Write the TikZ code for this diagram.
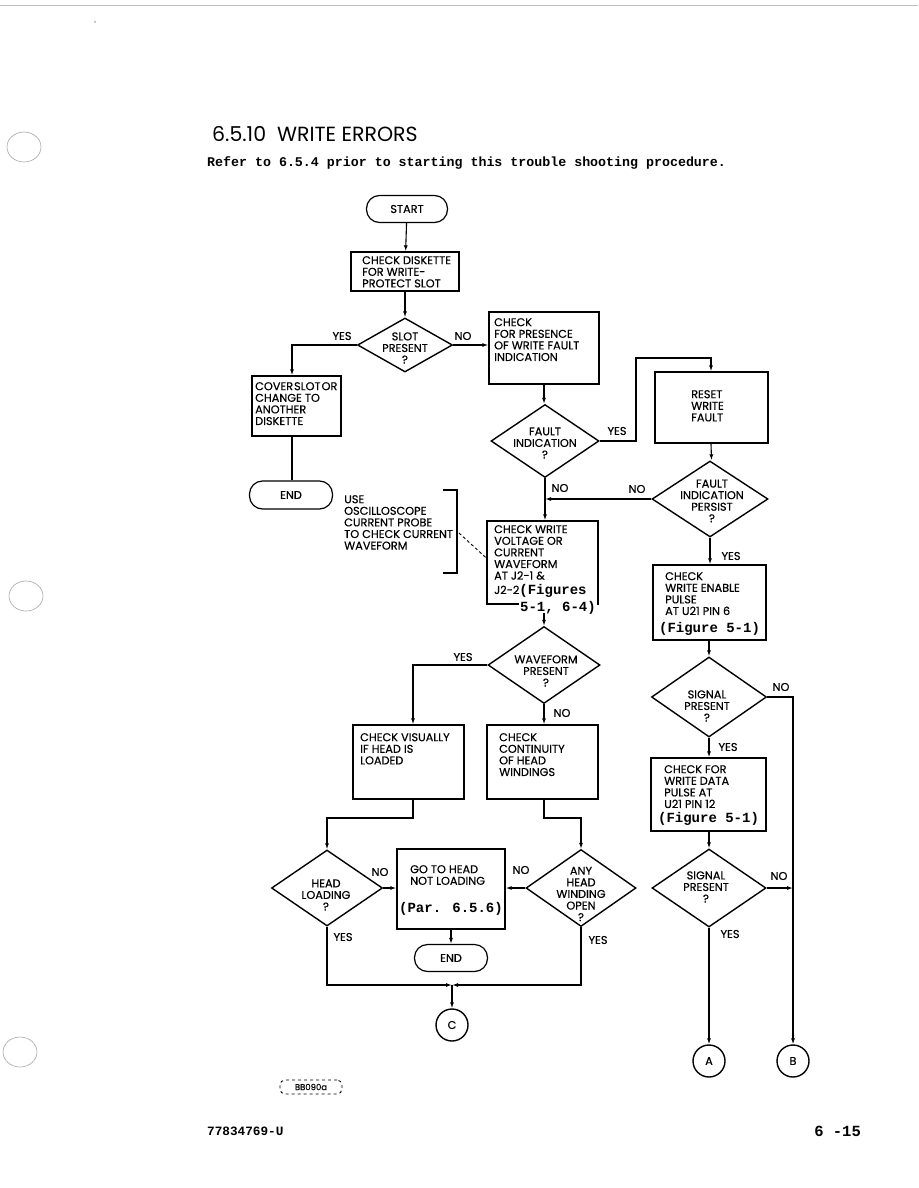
\documentclass[tikz,border=0pt]{standalone}
\usepackage{fontspec}
\setmainfont{Liberation Serif}
\newfontfamily\fut[FakeBold=0.4]{Poppins}
\newfontfamily\tit{Poppins}
\newfontfamily\mono{Liberation Mono}
\usetikzlibrary{shapes.geometric,arrows.meta,calc}
\tikzset{
 fc/.style={font=\fut\fontsize{11.3}{11.6}\selectfont},
 txt/.style={fc, inner sep=0, align=left, anchor=north west},
 ctxt/.style={fc, inner sep=0, align=center},
 box/.style={draw, rectangle, line width=1.4pt, inner sep=0},
 dia/.style={draw, diamond, line width=1.4pt, inner sep=0},
 term/.style={draw, rectangle, rounded corners=13pt, line width=1.2pt, inner sep=0, fc},
 conn/.style={draw, circle, line width=1.4pt, minimum size=32pt, inner sep=0, fc},
 ln/.style={line width=1.1pt},
 arr/.style={ln, -{Latex[length=6pt,width=4pt]}},
 yn/.style={fc, inner sep=0},
 figref/.style={font=\mono\bfseries\fontsize{14}{15}\selectfont, inner sep=0},
 hole/.style={draw=gray!70, line width=0.6pt},
}
\begin{document}
\begin{tikzpicture}[x=1pt,y=-1pt]
\useasboundingbox[fill=white] (0,0) rectangle (918,1188);
% scan marks
\draw[gray!50, line width=0.8pt] (0,5) -- (918,5);
\fill[gray!70] (95,22) circle (1pt);
\draw[hole] (24,147) ellipse [x radius=17pt, y radius=15pt];
\draw[hole] (26,596) ellipse [x radius=17pt, y radius=15pt];
\draw[hole] (20,1052) ellipse [x radius=17pt, y radius=15pt];

% title
\node[anchor=west, inner sep=0, font=\tit\fontsize{20.5}{22}\selectfont] (title) at (212,134) {6.5.10\ \ WRITE ERRORS};
\node[anchor=west, inner sep=0, font=\mono\bfseries\fontsize{13.3}{15}\selectfont] (sub) at (207,163) {Refer to 6.5.4 prior to starting this trouble shooting procedure.};

% terminals
\node[term, minimum width=81pt, minimum height=27pt] (start) at (407,209) {START};
\node[term, minimum width=83pt, minimum height=28pt] (end1) at (291,495) {END};
\node[term, minimum width=73pt, minimum height=27pt] (end2) at (451,958) {END};

% boxes
\node[box, minimum width=108pt, minimum height=39pt] (chk) at (405,271.5) {};
\node[txt] (chkT) at (362,256) {CHECK DISKETTE\\FOR WRITE-\\PROTECT SLOT};
\node[box, minimum width=110pt, minimum height=72pt] (chkf) at (544,348) {};
\node[txt] (chkfT) at (494,318) {CHECK\\FOR PRESENCE\\OF WRITE FAULT\\INDICATION};
\node[box, minimum width=89pt, minimum height=60pt] (cover) at (296.5,406) {};
\node[txt] (coverT) at (255,382) {COVER\hspace{1pt}SLOT\hspace{1pt}OR\\CHANGE TO\\ANOTHER\\DISKETTE};
\node[box, minimum width=113pt, minimum height=71pt] (reset) at (711.5,407.5) {};
\node[txt] (resetT) at (691,390) {RESET\\WRITE\\FAULT};
\node[box, minimum width=111pt, minimum height=83pt] (cwv) at (542.5,562.5) {};
\node[txt] (cwvT) at (494,525) {CHECK WRITE\\VOLTAGE OR\\CURRENT\\WAVEFORM\\AT J2-1 \&};
\node[anchor=base west, inner sep=0] (cwvT2) at (494,594) {{\fut\fontsize{11.3}{11.6}\selectfont J2-2}{\mono\bfseries\fontsize{14}{15}\selectfont(Figures}};
\node[figref, anchor=base east, fill=white, inner ysep=0.5pt, inner xsep=1pt] (cwvT3) at (597,611) {5-1, 6-4)};
\node[box, minimum width=113pt, minimum height=75pt] (cwe) at (709.5,602.5) {};
\node[txt] (cweT) at (665,572) {CHECK\\WRITE ENABLE\\PULSE\\AT U21 PIN 6};
\node[figref] (cweT2) at (709.5,629) {(Figure 5-1)};
\node[box, minimum width=115pt, minimum height=73pt] (cwd) at (708.5,794.5) {};
\node[txt] (cwdT) at (664,765) {CHECK FOR\\WRITE DATA\\PULSE AT\\U21 PIN 12};
\node[figref] (cwdT2) at (708.5,819) {(Figure 5-1)};
\node[box, minimum width=111pt, minimum height=74pt] (vis) at (408.5,762) {};
\node[txt] (visT) at (360,733) {CHECK VISUALLY\\IF HEAD IS\\LOADED};
\node[box, minimum width=111pt, minimum height=74pt] (cont) at (542.5,762) {};
\node[txt] (contT) at (499,733) {CHECK\\CONTINUITY\\OF HEAD\\WINDINGS};
\node[box, minimum width=108pt, minimum height=80pt] (goto) at (451,889) {};
\node[txt] (gotoT) at (410,865) {GO TO HEAD\\NOT LOADING};
\node[figref] (gotoT2) at (451,909) {(Par. 6.5.6)};

% diamonds
\node[dia, minimum width=95pt, minimum height=54pt] (slot) at (405,345) {};
\node[ctxt] (slotT) at (405,348) {SLOT\\PRESENT\\?};
\node[dia, minimum width=108pt, minimum height=73pt] (fault) at (545,441) {};
\node[ctxt] (faultT) at (545,443) {FAULT\\INDICATION\\?};
\node[dia, minimum width=116pt, minimum height=76pt] (persist) at (710,499) {};
\node[ctxt] (persistT) at (712,501) {FAULT\\INDICATION\\PERSIST\\?};
\node[dia, minimum width=112pt, minimum height=77pt] (wave) at (544,665) {};
\node[ctxt] (waveT) at (546,671) {WAVEFORM\\PRESENT\\?};
\node[dia, minimum width=115pt, minimum height=80pt] (sig1) at (709,697) {};
\node[ctxt] (sig1T) at (707,706) {SIGNAL\\PRESENT\\?};
\node[dia, minimum width=114pt, minimum height=78pt] (sig2) at (709,888) {};
\node[ctxt] (sig2T) at (706,887) {SIGNAL\\PRESENT\\?};
\node[dia, minimum width=111pt, minimum height=76pt] (hl) at (327,888) {};
\node[ctxt] (hlT) at (326,895) {HEAD\\LOADING\\?};
\node[dia, minimum width=110pt, minimum height=77pt] (any) at (581,888) {};
\node[ctxt] (anyT) at (581,894) {ANY\\HEAD\\WINDING\\OPEN\\?};

% connectors
\node[conn] (c) at (452,1025) {C};
\node[conn] (a) at (709,1061) {A};
\node[conn] (b) at (793,1061) {B};

% annotation
\node[txt] (note) at (344,495) {USE\\OSCILLOSCOPE\\CURRENT PROBE\\TO CHECK CURRENT\\WAVEFORM};
\coordinate (br1) at (443,490);
\coordinate (br2) at (457,490);
\coordinate (br3) at (457,573);
\coordinate (br4) at (443,573);
\draw[ln, line width=1.3pt] (br1) -- (br2) -- (br3) -- (br4);
\draw[line width=0.9pt, dash pattern=on 3pt off 2.5pt] (459,533) -- (cwv.west |- 0,558);

% flow
\draw[arr] (start) -- (chk);
\draw[arr] (chk) -- (slot);
\draw[arr] (slot.west) -| ([xshift=-4.5pt]cover.north);
\draw[arr] (slot.east) -- (slot.east -| chkf.west);
\draw[ln] ([xshift=-4.5pt]cover.south) -- ([xshift=1pt]end1.north);
\draw[arr] (chkf.south) -- (chkf.south |- fault.north);
\coordinate (j1) at (636,358);
\draw[arr] (fault.east) -| (j1) -| ([xshift=-0.5pt]reset.north);
\draw[arr] ([xshift=-0.5pt]reset.south) -- (reset.south |- persist.north);
\draw[arr] (persist.west) -- (persist.west -| fault.south);
\draw[arr] (fault.south) -- (fault.south |- cwv.north);
\draw[arr] ([yshift=-8pt]cwv.south -| wave.north) -- (wave.north);
\draw[arr] (wave.west) -| ([xshift=4.5pt]vis.north);
\draw[arr] (wave.south) -- (wave.south |- cont.north);
\coordinate (j2) at (413,818);
\coordinate (j3) at (544,818);
\draw[arr] ([xshift=4.5pt]vis.south) -- (j2) -| (hl.north);
\draw[arr] (cont.south -| j3) -- (j3) -| (any.north);
\draw[arr] (hl.east) -- (hl.east -| goto.west);
\draw[arr] (any.west) -- (any.west -| goto.east);
\draw[arr] (goto.south) -- (end2.north);
\coordinate (jc) at (452,985);
\draw[arr] (hl.south) |- (jc);
\draw[arr] (any.south) |- (jc);
\draw[arr] (jc) -- (c.north);
\draw[arr] (persist.south) -- (persist.south |- cwe.north);
\draw[arr] (cwe.south -| sig1.north) -- (sig1.north);
\draw[arr] (sig1.east) -| (b.north);
\draw[arr] (sig1.south) -- (sig1.south |- cwd.north);
\draw[arr] (cwd.south -| sig2.north) -- (sig2.north);
\draw[arr] (sig2.east) -- (sig2.east -| b.north);
\draw[arr] (sig2.south) -- (a.north);

% yes/no labels
\node[yn] (l1) at (342,336) {YES};
\node[yn] (l2) at (463,336) {NO};
\node[yn] (l3) at (617,431) {YES};
\node[yn] (l4) at (560,488) {NO};
\node[yn] (l5) at (637,489) {NO};
\node[yn] (l6) at (731,556) {YES};
\node[yn] (l7) at (463,657) {YES};
\node[yn] (l8) at (562,713) {NO};
\node[yn] (l9) at (781,687) {NO};
\node[yn] (l10) at (728,747) {YES};
\node[yn] (l11) at (779,876) {NO};
\node[yn] (l12) at (730,934) {YES};
\node[yn] (l13) at (380,872) {NO};
\node[yn] (l14) at (343,937) {YES};
\node[yn] (l15) at (521,870) {NO};
\node[yn] (l16) at (598,940) {YES};

% footer
\node[draw, dashed, rounded corners=5pt, line width=0.9pt, minimum width=62pt, minimum height=14pt, inner sep=0, font=\fut\fontsize{8.5}{9}\selectfont] (bb) at (311,1087) {BB090a};
\node[anchor=west, inner sep=0, font=\mono\bfseries\fontsize{12.7}{15}\selectfont] (pn) at (207,1131) {77834769-U};
\node[anchor=east, inner sep=0, font=\mono\bfseries\fontsize{15.5}{15}\selectfont] (pg) at (861,1131) {6 -15};
\end{tikzpicture}
\end{document}
